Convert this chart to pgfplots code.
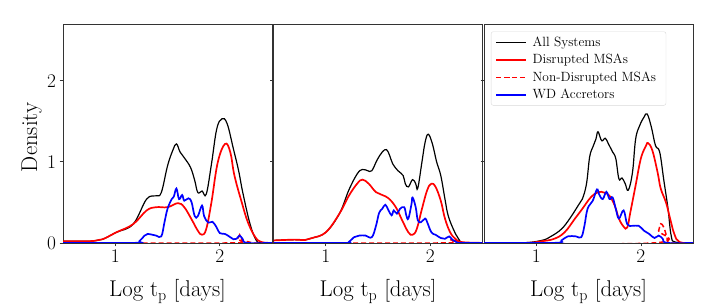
\documentclass[border=0pt]{standalone}
\usepackage{pgfplots}
\pgfplotsset{compat=1.18}
\begin{document}
\pgfplotsset{
  panel/.style={
    anchor=south west, scale only axis, width=210bp, height=220bp,
    xmin=0.5, xmax=2.5, ymin=0, ymax=2.7,
    xtick={1,2}, ytick={0,1,2},
    xtick pos=bottom, ytick pos=left,
    tick align=outside, major tick length=3.5bp,
    /pgf/number format/assume math mode=true,
    axis line style={black!80, line width=0.7bp},
    every tick/.style={black!80, line width=0.7bp},
    tick label style={font=\fontsize{19.5}{23}\selectfont},
    xlabel={Log t\textsubscript{p} [days]},
    label style={font=\fontsize{23}{27}\selectfont},
    xlabel style={at={(axis description cs:0.5,-0.2455)}, anchor=base},
    ylabel style={at={(axis description cs:-0.124,0.482)}, anchor=base},
    clip=true,
  },
  allsys/.style={black, line width=1.2bp, smooth, tension=0.65},
  dis/.style={red, line width=1.7bp, smooth, tension=0.65},
  nondis/.style={red, line width=1.5bp, dash pattern=on 5bp off 3bp, smooth, tension=0.65},
  wd/.style={blue, line width=1.7bp, smooth, tension=0.65},
}
\begin{tikzpicture}
\useasboundingbox (0,0) rectangle (718bp,306bp);
% ---------------- Panel 1
\begin{axis}[panel, at={(60bp,62bp)}, ylabel={Density}]
\addplot[allsys] coordinates {(0.5,0.02)(0.7,0.02)(0.8,0.025)(0.88,0.045)(1.01,0.13)(1.17,0.23)(1.30,0.54)(1.39,0.58)(1.44,0.62)(1.50,0.95)(1.55,1.14)(1.585,1.22)(1.62,1.12)(1.66,1.05)(1.72,0.93)(1.76,0.77)(1.79,0.62)(1.83,0.64)(1.87,0.60)(1.92,0.97)(1.97,1.40)(2.02,1.53)(2.07,1.47)(2.13,1.16)(2.18,0.89)(2.22,0.62)(2.29,0.23)(2.35,0.03)(2.40,0.0)(2.5,0.0)};
\addplot[dis] coordinates {(0.5,0.02)(0.7,0.02)(0.8,0.025)(0.88,0.045)(1.01,0.13)(1.17,0.23)(1.30,0.40)(1.39,0.44)(1.50,0.44)(1.60,0.49)(1.66,0.44)(1.73,0.29)(1.79,0.15)(1.83,0.10)(1.87,0.17)(1.92,0.50)(1.98,0.99)(2.05,1.22)(2.10,1.12)(2.14,0.83)(2.21,0.50)(2.27,0.25)(2.34,0.07)(2.40,0.01)(2.5,0.0)};
\addplot[nondis] coordinates {(0.5,0)(2.14,0)(2.17,0.04)(2.19,0.10)(2.21,0.04)(2.24,0)(2.5,0)};
\addplot[wd] coordinates {(0.5,0)(1.18,0)(1.23,0.02)(1.28,0.09)(1.31,0.11)(1.39,0.09)(1.44,0.08)(1.47,0.25)(1.50,0.42)(1.54,0.54)(1.56,0.57)(1.585,0.67)(1.61,0.54)(1.64,0.59)(1.66,0.52)(1.70,0.55)(1.73,0.50)(1.76,0.33)(1.79,0.33)(1.83,0.46)(1.85,0.33)(1.89,0.25)(1.93,0.26)(1.97,0.19)(2.00,0.12)(2.05,0.11)(2.10,0.07)(2.13,0.045)(2.16,0.05)(2.19,0.09)(2.22,0.045)(2.26,0.0)(2.5,0)};
\end{axis}
% ---------------- Panel 2
\begin{axis}[panel, at={(271.5bp,62bp)}, yticklabels={}]
\addplot[allsys] coordinates {(0.5,0.03)(0.7,0.04)(0.8,0.035)(0.87,0.06)(1.0,0.13)(1.13,0.36)(1.22,0.65)(1.30,0.85)(1.35,0.905)(1.40,0.89)(1.44,0.89)(1.49,1.02)(1.54,1.12)(1.58,1.15)(1.61,1.08)(1.64,0.975)(1.69,0.89)(1.74,0.83)(1.76,0.73)(1.79,0.69)(1.83,0.78)(1.86,0.73)(1.88,0.675)(1.92,1.0)(1.95,1.24)(1.98,1.34)(2.02,1.22)(2.06,1.0)(2.10,0.83)(2.14,0.54)(2.17,0.34)(2.22,0.17)(2.27,0.05)(2.32,0.0)(2.5,0)};
\addplot[dis] coordinates {(0.5,0.03)(0.7,0.04)(0.8,0.035)(0.87,0.06)(1.0,0.13)(1.13,0.36)(1.22,0.58)(1.30,0.73)(1.35,0.78)(1.41,0.73)(1.48,0.625)(1.54,0.59)(1.60,0.55)(1.67,0.44)(1.73,0.28)(1.79,0.13)(1.83,0.10)(1.87,0.17)(1.92,0.42)(1.97,0.65)(2.01,0.73)(2.05,0.69)(2.10,0.52)(2.14,0.30)(2.19,0.13)(2.24,0.05)(2.30,0.01)(2.5,0)};
\addplot[nondis] coordinates {(0.5,0)(2.16,0)(2.19,0.04)(2.22,0.02)(2.25,0)(2.5,0)};
\addplot[wd] coordinates {(0.5,0)(1.18,0)(1.22,0.01)(1.27,0.07)(1.32,0.09)(1.38,0.09)(1.44,0.07)(1.48,0.21)(1.51,0.37)(1.54,0.42)(1.57,0.47)(1.60,0.40)(1.63,0.34)(1.65,0.40)(1.68,0.36)(1.71,0.42)(1.75,0.44)(1.77,0.34)(1.79,0.30)(1.82,0.48)(1.83,0.56)(1.86,0.44)(1.88,0.28)(1.91,0.255)(1.95,0.30)(1.97,0.255)(2.01,0.13)(2.05,0.10)(2.10,0.06)(2.14,0.05)(2.18,0.08)(2.21,0.04)(2.25,0.01)(2.28,0)(2.5,0)};
\end{axis}
% ---------------- Panel 3
\begin{axis}[panel, at={(483bp,62bp)}, yticklabels={},
  legend cell align=left,
  legend style={at={(0.033,0.965)}, anchor=north west, draw=black!15, rounded corners=2bp, fill=white,
    font=\fontsize{13.5}{16}\selectfont, inner xsep=4bp, inner ysep=5bp, row sep=6.5bp,
    nodes={inner xsep=6bp, inner ysep=0bp}},
  legend image post style={xscale=1.76}]
\addplot[allsys] coordinates {(0.5,0)(0.86,0)(1.05,0.03)(1.14,0.08)(1.24,0.17)(1.32,0.30)(1.40,0.46)(1.44,0.54)(1.48,0.73)(1.51,1.06)(1.54,1.18)(1.57,1.28)(1.59,1.37)(1.625,1.26)(1.66,1.29)(1.69,1.22)(1.73,1.12)(1.76,1.04)(1.79,0.79)(1.82,0.80)(1.85,0.73)(1.88,0.65)(1.92,0.87)(1.95,1.28)(1.99,1.45)(2.03,1.55)(2.06,1.59)(2.10,1.43)(2.14,1.20)(2.18,1.12)(2.22,0.77)(2.26,0.42)(2.29,0.09)(2.33,0.01)(2.5,0)};
\addlegendentry{All Systems}
\addplot[dis] coordinates {(0.5,0)(0.9,0)(1.05,0.02)(1.17,0.05)(1.27,0.13)(1.37,0.30)(1.44,0.42)(1.52,0.56)(1.59,0.625)(1.65,0.62)(1.70,0.58)(1.75,0.46)(1.79,0.30)(1.835,0.20)(1.87,0.19)(1.90,0.38)(1.95,0.71)(2.0,1.04)(2.05,1.20)(2.07,1.23)(2.11,1.14)(2.16,0.87)(2.19,0.67)(2.24,0.50)(2.28,0.30)(2.32,0.11)(2.37,0.01)(2.5,0)};
\addlegendentry{Disrupted MSAs}
\addplot[nondis] coordinates {(0.5,0)(2.13,0)(2.17,0.15)(2.19,0.235)(2.22,0.19)(2.25,0.07)(2.28,0)(2.5,0)};
\addlegendentry{Non-Disrupted MSAs}
\addplot[wd] coordinates {(0.5,0)(1.17,0)(1.24,0.03)(1.30,0.08)(1.38,0.08)(1.43,0.07)(1.46,0.21)(1.49,0.42)(1.54,0.52)(1.58,0.66)(1.60,0.60)(1.635,0.54)(1.67,0.63)(1.70,0.54)(1.73,0.56)(1.76,0.42)(1.79,0.30)(1.835,0.40)(1.87,0.23)(1.92,0.21)(1.98,0.21)(2.03,0.15)(2.08,0.11)(2.13,0.06)(2.17,0.09)(2.21,0.05)(2.25,0)(2.5,0)};
\addlegendentry{WD Accretors}
\end{axis}
\end{tikzpicture}
\end{document}
